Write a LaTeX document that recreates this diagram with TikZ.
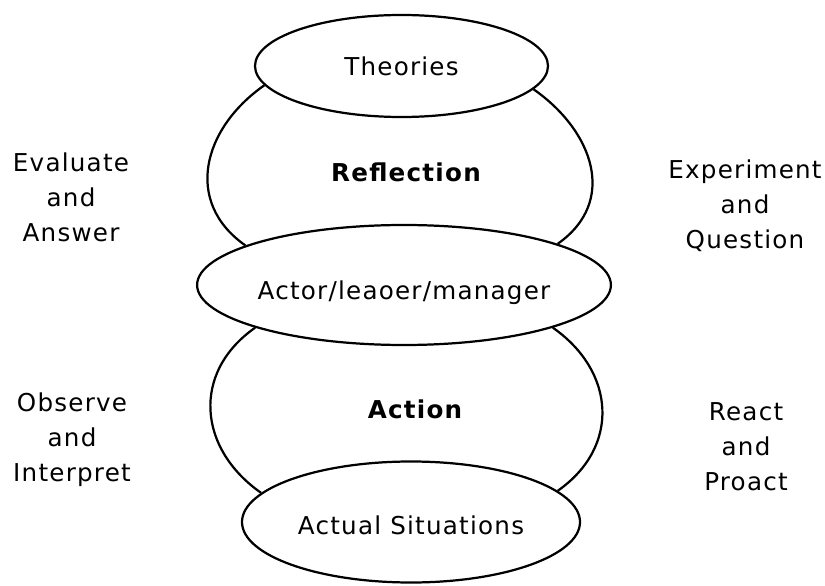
\documentclass[tikz,border=0pt]{standalone}
\usepackage{fontspec}
\setmainfont{DejaVu Sans}[LetterSpace=5]
\usetikzlibrary{shapes.geometric,positioning}
\newcommand{\cyclefont}{\fontsize{21pt}{30pt}\selectfont}
\tikzset{ring/.style={ellipse,draw,line width=1.9pt,inner sep=0pt},
         bulge/.style={line width=1.9pt,looseness=1.2},
         core label/.style={font=\cyclefont\bfseries},
         side label/.style={align=center}
}

\begin{document}
\begin{tikzpicture}[x=0.3mm,y=0.3mm,
every node/.style={font=\cyclefont},
line join=round]
\useasboundingbox (0,0) rectangle (825,585);

\node [ring, minimum width=87.9mm, minimum height=30.6mm] (theo) at (401.5,519) {Theories};
\node [ring, minimum width=102.6mm, minimum height=36mm, text height=10.5mm, text depth=1.5mm] (actor) at (404,300) {Actor/leaoer/manager};
\node [ring, minimum width=101.4mm, minimum height=36.3mm, text height=9.2mm, text depth=1.5mm] (actual) at (411,63) {Actual Situations};

% the two bodies between the rings
\draw [bulge] (theo.188) to[out=215,in=145] (actor.166);
\draw [bulge] (theo.350) to[out=325,in=35] (actor.15);
\draw [bulge] (actor.196) to[out=215,in=145] (actual.169);
\draw [bulge] (actor.344) to[out=325,in=35] (actual.12);

\node [core label] (refl) at (406,413) {Reflection};
\node [core label] (act) at (415,176) {Action};

\node [side label] (eval) at (71,388) {Evaluate\\and\\Answer};
\node [side label] (expe) at (745,379) {Experiment\\and\\Question};
\node [side label] (obse) at (72,145) {Observe\\and\\Interpret};
\node [side label] (reac) at (746,138) {React\\and\\Proact};
\end{tikzpicture}
\end{document}
